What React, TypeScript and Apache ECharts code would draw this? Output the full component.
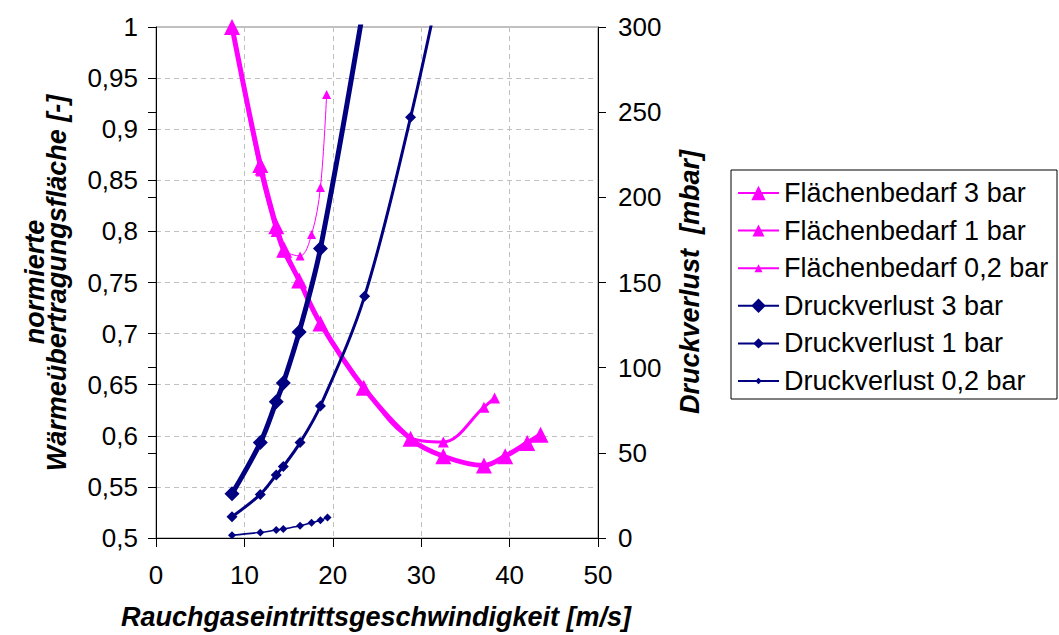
import React, { useEffect, useRef } from 'react';
import * as echarts from 'echarts';

const FONT = '"Liberation Sans", Arial, Helvetica, sans-serif';
const PINK = '#FF00FF';
const NAVY = '#000080';

// Velocity [m/s] and normalized heat-transfer area [-]
const flaeche3X = [8.6, 11.8, 13.6, 14.5, 16.2, 18.6, 23.5, 28.8, 32.5, 37.1, 39.5, 42.0, 43.5];
const flaeche3Y = [1.0, 0.865, 0.805, 0.782, 0.752, 0.71, 0.647, 0.597, 0.58, 0.571, 0.58, 0.593, 0.601];

const flaeche1X = [8.6, 11.8, 13.6, 14.4, 16.3, 18.6, 23.5, 28.8, 32.5, 37.1, 38.3];
const flaeche1Y = [1.0, 0.86, 0.8, 0.78, 0.75, 0.71, 0.648, 0.598, 0.594, 0.628, 0.637];

const flaeche02X = [8.6, 11.8, 13.6, 14.4, 16.3, 17.6, 18.6, 19.3];
const flaeche02Y = [1.0, 0.858, 0.8, 0.782, 0.776, 0.797, 0.843, 0.934];

// Pressure loss [mbar]
const druck3X = [8.6, 11.8, 13.6, 14.4, 16.2, 18.6, 23.5];
const druck3Y = [26, 56, 80, 91, 121, 170, 312];

const druck1X = [8.6, 11.8, 13.6, 14.4, 16.3, 18.6, 23.6, 28.8, 32.5];
const druck1Y = [12.5, 25.6, 37, 42, 56, 77.5, 142, 247, 335];

const druck02X = [8.6, 11.8, 13.6, 14.4, 16.3, 17.6, 18.6, 19.4];
const druck02Y = [1.6, 3.3, 4.7, 5.3, 7.2, 9.0, 10.4, 12.1];

const seriesNames = [
  'Flächenbedarf 3 bar',
  'Flächenbedarf 1 bar',
  'Flächenbedarf 0,2 bar',
  'Druckverlust 3 bar',
  'Druckverlust 1 bar',
  'Druckverlust 0,2 bar',
];

const xTitle = 'Rauchgaseintrittsgeschwindigkeit [m/s]';
const yTitleLine1 = 'normierte';
const yTitleLine2 = 'Wärmeübertragungsfläche [-]';
const y2Title = 'Druckverlust  [mbar]';

const pairs = (xs: number[], ys: number[]) => xs.map((x, i) => [x, ys[i]]);

export default function App() {
  const ref = useRef<HTMLDivElement>(null);

  useEffect(() => {
    const chart = echarts.init(ref.current!, null, { renderer: 'svg' });

    const gridLine = { show: true, lineStyle: { color: '#c0c0c0', type: [5, 4] as any, width: 1 } };
    const labelStyle = { color: '#000', fontFamily: FONT, fontSize: 26 };

    const mk = (
      name: string,
      data: number[][],
      yAxisIndex: number,
      color: string,
      width: number,
      symbol: string,
      symbolSize: number,
      z: number
    ) => ({
      name,
      type: 'line',
      xAxisIndex: 0,
      yAxisIndex,
      data,
      smooth: 0.35,
      symbol,
      symbolSize,
      showAllSymbol: true,
      lineStyle: { color, width },
      itemStyle: { color, borderWidth: 0 },
      emphasis: { disabled: true },
      z,
    });

    const legendRow = (i: number, itemHeight: number) => ({
      data: [seriesNames[i]],
      orient: 'vertical',
      left: 737,
      top: 193 + i * 37.6 - 16,
      padding: 0,
      itemWidth: 41,
      itemHeight,
      selectedMode: false,
      textStyle: { color: '#000', fontFamily: FONT, fontSize: 27, lineHeight: 32 },
    });

    chart.setOption({
      animation: false,
      backgroundColor: '#fff',
      grid: {
        left: 156,
        right: 461,
        top: 27,
        bottom: 97,
        show: true,
        borderColor: '#808080',
        borderWidth: 1,
        backgroundColor: 'transparent',
      },
      xAxis: [
        {
          type: 'value',
          min: 0,
          max: 50,
          interval: 10,
          axisLine: { show: true, onZero: false, lineStyle: { color: '#000', width: 1 } },
          axisTick: { show: true, length: 9, lineStyle: { color: '#000' } },
          axisLabel: { ...labelStyle, margin: 24 },
          splitLine: gridLine,
        },
      ],
      yAxis: [
        {
          type: 'value',
          position: 'left',
          min: 0.5,
          max: 1,
          interval: 0.05,
          axisLine: { show: true, onZero: false, lineStyle: { color: '#000', width: 1 } },
          axisTick: { show: true, length: 8, lineStyle: { color: '#000' } },
          axisLabel: {
            ...labelStyle,
            margin: 18,
            formatter: (v: number) => String(Math.round(v * 100) / 100).replace('.', ','),
          },
          splitLine: gridLine,
        },
        {
          type: 'value',
          position: 'right',
          min: 0,
          max: 300,
          interval: 50,
          axisLine: { show: true, onZero: false, lineStyle: { color: '#000', width: 1 } },
          axisTick: { show: true, length: 8, lineStyle: { color: '#000' } },
          axisLabel: { ...labelStyle, margin: 20 },
          splitLine: { show: false },
        },
        {
          type: 'value',
          position: 'right',
          min: 0,
          max: 300,
          interval: 50,
          axisLine: { show: false },
          axisTick: { show: true, inside: true, length: 8, lineStyle: { color: '#000' } },
          axisLabel: { show: false },
          splitLine: { show: false },
        },
      ],
      legend: [
        legendRow(0, 18),
        legendRow(1, 15),
        legendRow(2, 10),
        legendRow(3, 18),
        legendRow(4, 13),
        legendRow(5, 8),
      ],
      graphic: [
        {
          type: 'rect',
          shape: { x: 731, y: 170, width: 326, height: 229 },
          style: { fill: 'none', stroke: '#000', lineWidth: 1 },
          z: -1,
        },
        {
          type: 'text',
          x: 376,
          y: 617,
          style: {
            text: xTitle,
            fontFamily: FONT,
            fontSize: 27,
            fontWeight: 'bold',
            fontStyle: 'italic',
            fill: '#000',
            align: 'center',
            verticalAlign: 'middle',
          },
        },
        {
          type: 'text',
          x: 35,
          y: 282,
          rotation: Math.PI / 2,
          style: {
            text: yTitleLine1,
            fontFamily: FONT,
            fontSize: 27,
            fontWeight: 'bold',
            fontStyle: 'italic',
            fill: '#000',
            align: 'center',
            verticalAlign: 'middle',
          },
        },
        {
          type: 'text',
          x: 57,
          y: 283,
          rotation: Math.PI / 2,
          style: {
            text: yTitleLine2,
            fontFamily: FONT,
            fontSize: 27,
            fontWeight: 'bold',
            fontStyle: 'italic',
            fill: '#000',
            align: 'center',
            verticalAlign: 'middle',
          },
        },
        {
          type: 'text',
          x: 690,
          y: 282,
          rotation: Math.PI / 2,
          style: {
            text: y2Title,
            fontFamily: FONT,
            fontSize: 27,
            fontWeight: 'bold',
            fontStyle: 'italic',
            fill: '#000',
            align: 'center',
            verticalAlign: 'middle',
          },
        },
      ],
      series: [
        mk(seriesNames[0], pairs(flaeche3X, flaeche3Y), 0, PINK, 5, 'triangle', 16, 3),
        mk(seriesNames[1], pairs(flaeche1X, flaeche1Y), 0, PINK, 3, 'triangle', 11, 4),
        mk(seriesNames[2], pairs(flaeche02X, flaeche02Y), 0, PINK, 1, 'triangle', 9, 5),
        mk(seriesNames[3], pairs(druck3X, druck3Y), 1, NAVY, 5, 'diamond', 15, 6),
        mk(seriesNames[4], pairs(druck1X, druck1Y), 1, NAVY, 3, 'diamond', 11, 7),
        mk(seriesNames[5], pairs(druck02X, druck02Y), 1, NAVY, 1.5, 'diamond', 8, 8),
      ],
    });

    return () => chart.dispose();
  }, []);

  return (
    <div
      ref={ref}
      style={{ position: 'fixed', left: 0, top: 0, width: 1059, height: 635, background: '#fff' }}
    />
  );
}
